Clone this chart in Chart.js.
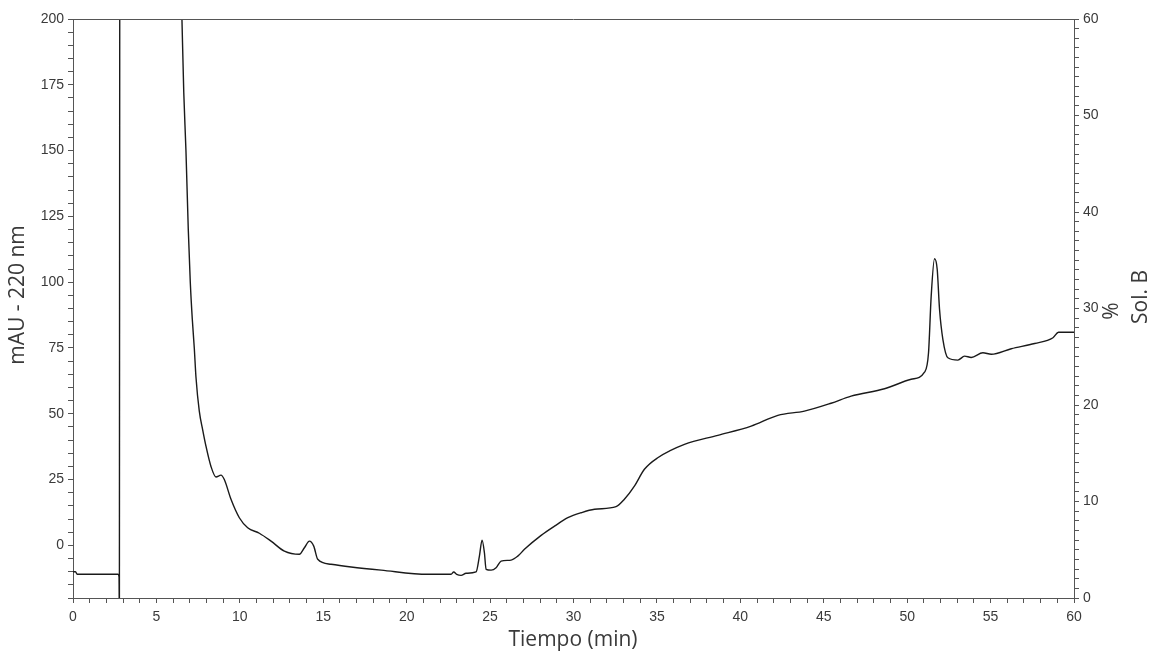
<!DOCTYPE html>
<html>
<head>
<meta charset="utf-8">
<script src="https://cdn.jsdelivr.net/npm/chart.js@4"></script>
<style>
  html, body { margin: 0; padding: 0; background: #fff; }
  #wrap { width: 1158px; height: 657px; position: relative; }
</style>
</head>
<body>
<div id="wrap"><canvas id="chart"></canvas></div>
<script>
// chromatogram trace (time in min, signal in mAU)
const times = [0, 0.15, 0.25, 2.7, 2.76, 2.78, 2.82, 4.5, 6.3, 6.53, 6.64, 6.77, 6.91, 7.03,
  7.15, 7.27, 7.37, 7.57, 7.77, 7.97, 8.27, 8.57, 8.87, 9.07, 9.47, 9.97, 10.47, 11.17, 11.87, 12.67,
  13.57, 13.87, 14.17, 14.43, 14.67, 15.47, 16.67, 18.47, 21.27, 22.66, 22.82, 23.0, 23.26, 23.56,
  24.16, 24.36, 24.52, 24.66, 24.76, 25.06, 25.36, 25.66, 26.26, 26.66, 27.06, 28.06, 28.86, 29.66,
  30.46, 31.26, 32.55, 33.05, 33.65, 34.25, 35.05, 36.65, 38.65, 40.65, 42.25, 43.84, 45.44, 46.64,
  48.64, 50.24, 51.04, 51.28, 51.44, 51.64, 51.8, 51.94, 52.14, 52.44, 53.04, 53.44, 53.84, 54.54,
  55.04, 56.24, 57.64, 58.74, 59.07, 60]
const mau = [-10, -10, -11, -11, -12, -30, 400, 500, 260, 200, 172, 150, 120, 100,
  86, 75, 64, 51, 44, 37.7, 30, 26, 26.7, 25, 17.5, 10.5, 6.7, 4.6, 1.6, -2.2,
  -3.4, -0.9, 1.6, -0.3, -5.3, -7.2, -8.2, -9.4, -11, -11, -10.1, -11, -11.4, -10.6,
  -10.1, -4.1, 2.0, -2.8, -9.1, -9.4, -8.5, -6, -5.6, -4.1, -1.5, 3.8, 7.3, 10.5,
  12.4, 13.7, 14.7, 17.5, 22.5, 28.9, 33.3, 38.4, 41.8, 45.3, 49.4, 51, 54, 56.7,
  59.5, 63.1, 65.8, 73.2, 94.7, 108.9, 104.9, 89.7, 78.3, 71.3, 70.4, 71.9, 71.4, 73.2,
  72.6, 74.7, 76.7, 78.9, 81, 81]

// axis ticks: minor marks, labels only on the major ones
const xTicks = Array.from({ length: 61 }, (_, i) => i)
const yTicks = Array.from({ length: 45 }, (_, i) => -20 + i * 5)
const y1Ticks = Array.from({ length: 61 }, (_, i) => i)

const axisColor = "#555"
const textColor = "#3a3a3a"

const titles = {
  id: "titles",
  afterDraw(chart) {
    const { ctx, chartArea } = chart
    ctx.save()
    // top frame line
    ctx.strokeStyle = axisColor
    ctx.lineWidth = 1
    ctx.beginPath()
    ctx.moveTo(chartArea.left, chartArea.top + 0.5)
    ctx.lineTo(chartArea.right, chartArea.top + 0.5)
    ctx.stroke()

    ctx.fillStyle = textColor
    ctx.font = "21px 'Open Sans'"
    ctx.textAlign = "center"
    ctx.textBaseline = "middle"
    ctx.fillText("Tiempo (min)", 573, 640)

    const rotated = (text, x, y) => {
      ctx.save()
      ctx.translate(x, y)
      ctx.rotate(-Math.PI / 2)
      ctx.fillText(text, 0, 0)
      ctx.restore()
    }
    rotated("mAU - 220 nm", 18, 295)
    rotated("%", 1112, 311)
    rotated("Sol. B", 1141, 297)
    ctx.restore()
  }
}

const tickFont = { family: "'Liberation Sans', Arial, sans-serif", size: 14 }

new Chart(document.getElementById("chart"), {
  type: "line",
  data: {
    datasets: [{
      data: times.map((t, i) => ({ x: t, y: mau[i] })),
      borderColor: "#1a1a1a",
      borderWidth: 1.4,
      pointRadius: 0,
      cubicInterpolationMode: "monotone",
      fill: false,
      yAxisID: "y"
    }]
  },
  options: {
    responsive: true,
    maintainAspectRatio: false,
    animation: false,
    layout: { padding: { top: 19, left: 0, right: 0, bottom: 0 } },
    plugins: { legend: { display: false }, tooltip: { enabled: false } },
    scales: {
      x: {
        type: "linear",
        min: 0,
        max: 60,
        afterBuildTicks: s => { s.ticks = xTicks.map(v => ({ value: v })) },
        afterFit: s => { s.height = 59 },
        ticks: {
          autoSkip: false,
          maxRotation: 0,
          padding: 6,
          color: textColor,
          font: tickFont,
          callback: v => (v % 5 === 0 ? String(v) : "")
        },
        grid: { drawOnChartArea: false, drawTicks: true, tickLength: 5, color: axisColor },
        border: { display: true, color: axisColor }
      },
      y: {
        position: "left",
        min: -20,
        max: 200,
        afterBuildTicks: s => { s.ticks = yTicks.map(v => ({ value: v })) },
        afterFit: s => { s.width = 73 },
        ticks: {
          autoSkip: false,
          padding: 4,
          color: textColor,
          font: tickFont,
          callback: v => (v % 25 === 0 ? String(v) : "")
        },
        grid: { drawOnChartArea: false, drawTicks: true, tickLength: 5, color: axisColor },
        border: { display: true, color: axisColor }
      },
      y1: {
        position: "right",
        min: 0,
        max: 60,
        afterBuildTicks: s => { s.ticks = y1Ticks.map(v => ({ value: v })) },
        afterFit: s => { s.width = 84 },
        ticks: {
          autoSkip: false,
          padding: 4,
          color: textColor,
          font: tickFont,
          callback: v => (v % 10 === 0 ? String(v) : "")
        },
        grid: { drawOnChartArea: false, drawTicks: true, tickLength: 5, color: axisColor },
        border: { display: true, color: axisColor }
      }
    }
  },
  plugins: [titles]
})
</script>
</body>
</html>
